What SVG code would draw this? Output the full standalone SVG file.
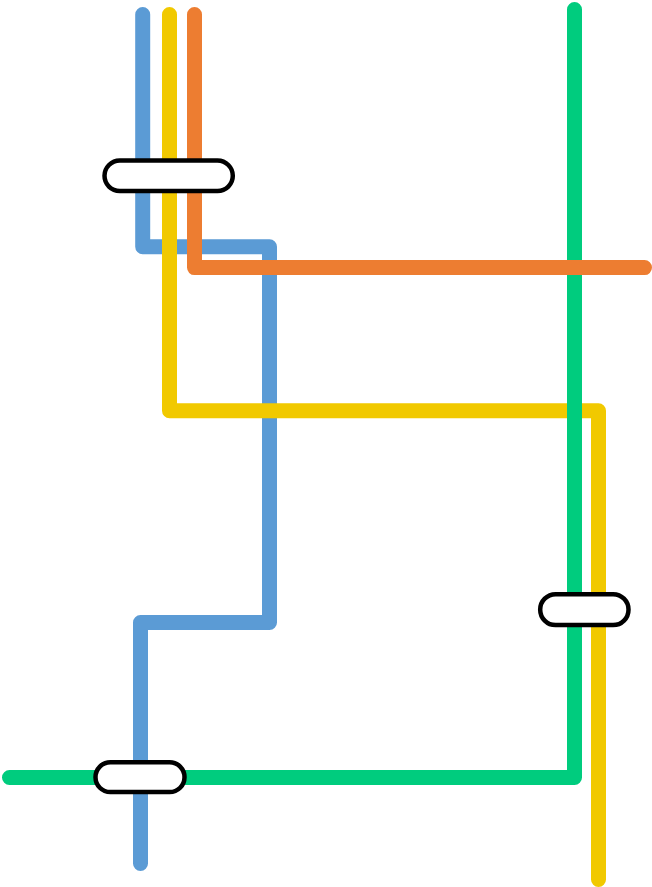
<svg xmlns="http://www.w3.org/2000/svg" width="652" height="887" viewBox="0 0 652 887">
<style>
.line{fill:none;stroke-width:15;stroke-linecap:round;stroke-linejoin:round}
.pill{fill:#fff;stroke:#000;stroke-width:4.5}
</style>
<rect width="652" height="887" fill="#fff"/>
<g id="connectors">
<path class="line" stroke="#5b9bd5" d="M142.7 14.5V246.8H269.5V622.5H140.5V863.5"/>
<path class="line" stroke="#f1c900" d="M169.5 14.5V410.8H598.5V879.5"/>
<path class="line" stroke="#00cc7e" d="M574.5 9.5V777.5H9.5"/>
<path class="line" stroke="#ed7d31" d="M194.5 14.5V267.6H644.5"/>
</g>
<g id="node-top"><rect class="pill" x="104.5" y="160.5" width="128.3" height="30.6" rx="15.3"/></g>
<g id="node-right"><rect class="pill" x="540.2" y="594.2" width="88.3" height="30.9" rx="15.4"/></g>
<g id="node-bottom"><rect class="pill" x="95.5" y="762.2" width="89" height="29.9" rx="14.9"/></g>
</svg>
